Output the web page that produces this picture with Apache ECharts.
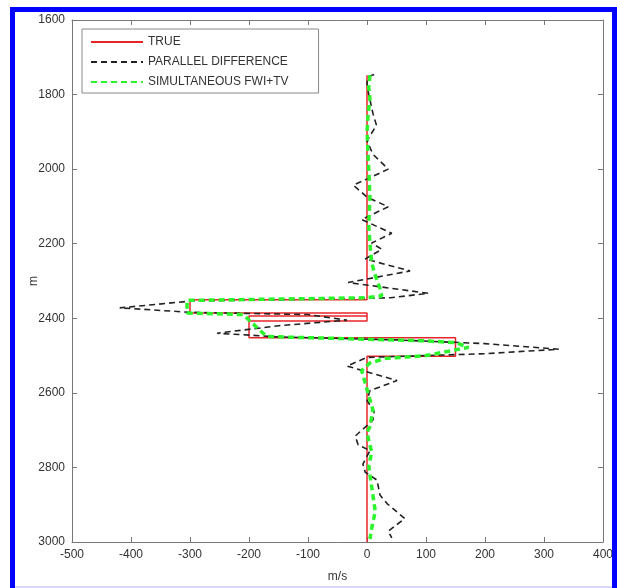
<!DOCTYPE html>
<html>
<head>
<meta charset="utf-8">
<script src="https://cdn.jsdelivr.net/npm/echarts@6/dist/echarts.min.js"></script>
<style>html,body{margin:0;padding:0;background:#fff}#c{width:617px;height:588px}</style>
</head>
<body>
<div id="c"></div>
<script>
// ---- data (value in m/s, depth in m) ----
var xTicks = [-500, -400, -300, -200, -100, 0, 100, 200, 300, 400];
var yTicks = [1600, 1800, 2000, 2200, 2400, 2600, 2800, 3000];
var seriesNames = ['TRUE', 'PARALLEL DIFFERENCE', 'SIMULTANEOUS FWI+TV'];

var trueV = [0, 0, -300, -300, 0, 0, -200, -200, 0, -200, -200, 150, 150, 0, 0];
var trueD = [1748, 2350, 2350, 2386, 2386, 2407, 2407, 2394, 2394, 2394, 2452, 2452, 2502, 2502, 3000];

var parV = [12, 2, 0, 3, 10, 16, 0, 10, 36, -23, 0, 36, -9, 42, 8, 25, -3, 73, -32, 104, 40, -300, -419, -300, -100, -34, -150, -254, -150, 50, 200, 325, 200, 0, -34, 51, 5, 0, 12, 10, -20, -15, 5, -7, -3, 17, 22, 34, 64, 36, 42];
var parD = [1746, 1752, 1770, 1800, 1850, 1882, 1924, 1960, 2000, 2043, 2075, 2101, 2135, 2172, 2198, 2215, 2241, 2273, 2304, 2333, 2345, 2354, 2372, 2384, 2390, 2405, 2420, 2440, 2450, 2458, 2468, 2483, 2495, 2505, 2528, 2567, 2594, 2620, 2650, 2673, 2716, 2739, 2755, 2791, 2813, 2834, 2874, 2897, 2937, 2971, 2989];

var simV = [5, 3, 5, 2, 0, 3, 5, 3, 5, 8, 14, 22, 25, 0, -305, -305, -210, -170, 90, 150, 172, 100, 30, 5, -9, 2, 10, 5, 0, 8, 3, 5, 10, 14, 8, 5];
var simD = [1748, 1780, 1811, 1850, 1900, 2000, 2075, 2150, 2200, 2251, 2285, 2320, 2340, 2345, 2352, 2386, 2390, 2449, 2460, 2465, 2478, 2500, 2508, 2520, 2540, 2602, 2646, 2690, 2707, 2760, 2795, 2820, 2874, 2918, 2963, 2992];

function zip(a, b) { return a.map(function (v, i) { return [v, b[i]]; }); }

var chart = echarts.init(document.getElementById('c'), null, {renderer: 'canvas'});
var axisCol = '#777';
var font = 'Liberation Sans, Arial, sans-serif';
var labelStyle = {color: '#333', fontSize: 12, fontFamily: font};
function plain(v) { return String(v); }

chart.setOption({
  backgroundColor: '#fff',
  animation: false,
  grid: {left: 72, top: 20, right: 14, bottom: 37, containLabel: false},
  legend: {
    orient: 'vertical',
    left: 82, top: 29,
    padding: [7, 30, 5, 8],
    itemGap: 8,
    itemWidth: 52, itemHeight: 12,
    borderColor: '#888', borderWidth: 1, borderRadius: 0,
    backgroundColor: '#fff',
    itemStyle: {opacity: 0, color: 'transparent', borderWidth: 0},
    textStyle: {color: '#333', fontSize: 12, fontFamily: font},
    data: seriesNames
  },
  xAxis: [{
    type: 'value', min: xTicks[0], max: xTicks[xTicks.length - 1], interval: 100,
    name: 'm/s', nameLocation: 'middle', nameGap: 29, nameMoveOverlap: false,
    nameTextStyle: {color: '#333', fontSize: 12, fontFamily: font},
    axisLine: {onZero: false, lineStyle: {color: axisCol}},
    axisTick: {inside: true, length: 5, lineStyle: {color: axisCol}},
    axisLabel: Object.assign({margin: 7, formatter: plain}, labelStyle),
    splitLine: {show: false}
  }, {
    type: 'value', position: 'top', min: xTicks[0], max: xTicks[xTicks.length - 1], interval: 100,
    axisLine: {onZero: false, lineStyle: {color: axisCol}},
    axisTick: {inside: true, length: 5, lineStyle: {color: axisCol}},
    axisLabel: {show: false}, splitLine: {show: false}
  }],
  yAxis: [{
    type: 'value', inverse: true, min: yTicks[0], max: yTicks[yTicks.length - 1], interval: 200,
    name: 'm', nameLocation: 'middle', nameGap: 32, nameRotate: 90, nameMoveOverlap: false,
    nameTextStyle: {color: '#333', fontSize: 12, fontFamily: font},
    axisLine: {onZero: false, lineStyle: {color: axisCol}},
    axisTick: {inside: true, length: 5, lineStyle: {color: axisCol}},
    axisLabel: Object.assign({margin: 7, formatter: plain}, labelStyle),
    splitLine: {show: false}
  }, {
    type: 'value', position: 'right', inverse: true, min: yTicks[0], max: yTicks[yTicks.length - 1], interval: 200,
    axisLine: {onZero: false, lineStyle: {color: axisCol}},
    axisTick: {inside: true, length: 5, lineStyle: {color: axisCol}},
    axisLabel: {show: false}, splitLine: {show: false}
  }],
  series: [{
    name: seriesNames[0], type: 'line', symbol: 'none', z: 2,
    lineStyle: {color: '#e8262a', width: 1.5},
    itemStyle: {color: '#e8262a'},
    data: zip(trueV, trueD)
  }, {
    name: seriesNames[1], type: 'line', symbol: 'none', z: 3,
    lineStyle: {color: '#222', width: 1.6, type: [6, 4]},
    itemStyle: {color: '#222'},
    data: zip(parV, parD)
  }, {
    name: seriesNames[2], type: 'line', symbol: 'none', z: 4,
    lineStyle: {color: '#2af52a', width: 3.5, type: [6, 4]},
    itemStyle: {color: '#2af52a'},
    data: zip(simV, simD)
  }],
  graphic: [{
    type: 'rect', silent: true, z: 100,
    shape: {x: 12.5, y: 9.5, width: 602, height: 582},
    style: {fill: 'none', stroke: '#0000ff', lineWidth: 5}
  }, {
    type: 'rect', silent: true, z: 101,
    shape: {x: 15, y: 586, width: 597, height: 2},
    style: {fill: '#d8d8ff'}
  }]
});
</script>
</body>
</html>
